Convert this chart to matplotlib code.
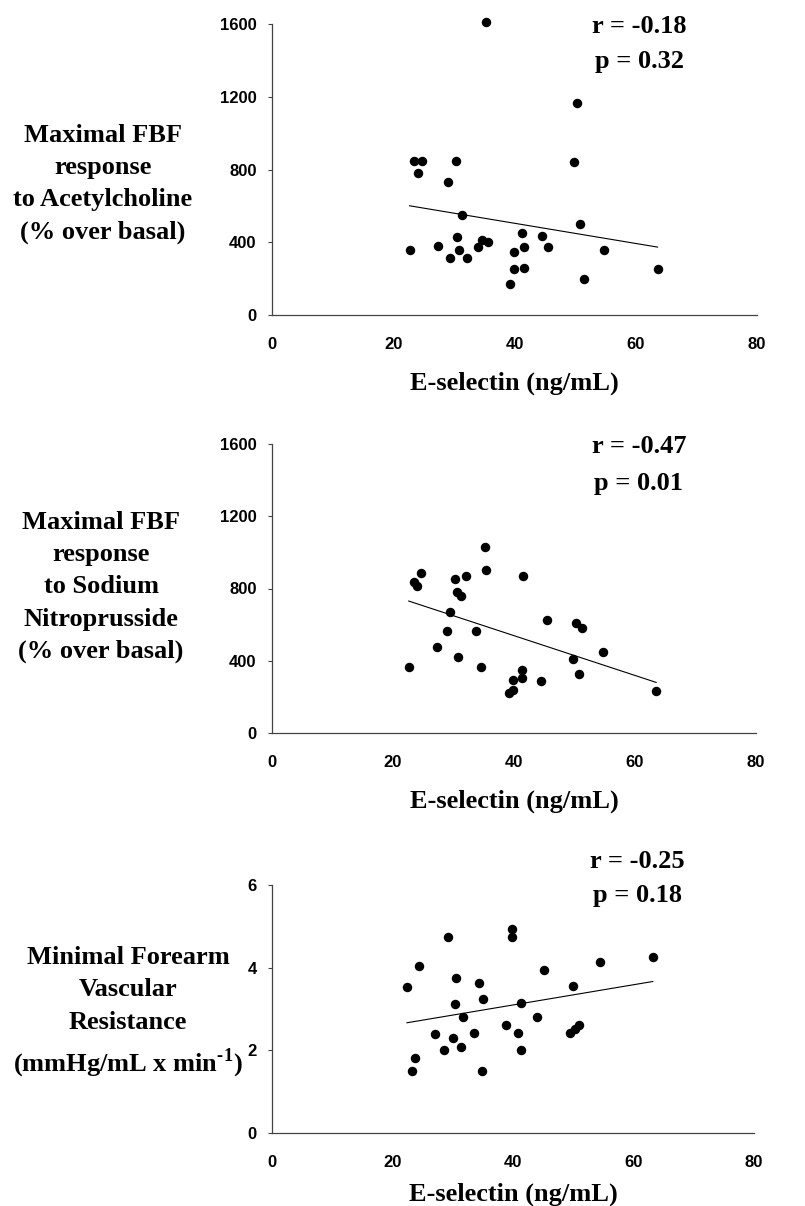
import matplotlib
matplotlib.use('Agg')
import matplotlib.pyplot as plt
import numpy as np

plt.rcParams['mathtext.fontset'] = 'custom'
plt.rcParams['mathtext.rm'] = 'Liberation Serif:bold'
plt.rcParams['mathtext.bf'] = 'Liberation Serif:bold'

# E-selectin (ng/mL) vs. forearm blood flow measures
esel_ach = [35.3, 50.3, 49.8, 23.5, 24.8, 24.1, 30.3, 29.0, 31.4, 50.8,
            22.7, 27.4, 30.5, 30.8, 29.4, 32.1, 33.9, 34.6, 35.6, 39.9,
            41.3, 41.6, 39.9, 41.6, 39.3, 44.5, 45.6, 54.8, 51.4, 63.6]
fbf_ach = [1610, 1167, 839, 845, 845, 781, 845, 733, 548, 500,
           356, 379, 427, 356, 315, 315, 372, 412, 403, 348,
           453, 372, 251, 260, 170, 436, 374, 357, 198, 255]

esel_snp = [35.2, 35.4, 24.7, 23.5, 23.9, 30.3, 32.1, 41.5, 30.5, 31.3,
            29.4, 28.9, 33.8, 27.3, 30.7, 22.6, 34.5, 45.5, 50.2, 51.3,
            54.7, 49.8, 50.7, 41.4, 41.3, 39.9, 44.4, 39.9, 39.2, 63.5]
fbf_snp = [1030, 902, 886, 838, 814, 854, 871, 871, 782, 757,
           670, 565, 567, 476, 423, 365, 365, 624, 607, 583,
           448, 408, 327, 351, 303, 295, 288, 240, 223, 234]

esel_fvr = [29.2, 39.8, 39.8, 24.4, 63.2, 54.4, 45.2, 22.4, 30.5, 34.3,
            35.1, 30.3, 41.3, 49.9, 31.7, 44.0, 38.9, 27.1, 33.6, 40.8,
            30.0, 31.3, 28.5, 41.3, 23.7, 23.3, 34.9, 49.5, 50.3, 51.0]
fvr_min = [4.73, 4.94, 4.73, 4.04, 4.25, 4.14, 3.94, 3.54, 3.74, 3.64,
           3.24, 3.13, 3.14, 3.55, 2.80, 2.81, 2.61, 2.40, 2.41, 2.41,
           2.30, 2.09, 2.00, 2.00, 1.81, 1.51, 1.51, 2.42, 2.51, 2.62]

ylabels = ['Maximal FBF\nresponse\nto Acetylcholine\n(% over basal)',
           'Maximal FBF\nresponse\nto Sodium\nNitroprusside\n(% over basal)',
           'Minimal Forearm\nVascular\nResistance\n(mmHg/mL x min$^{\\text{-1}}$)']
stats = [('r = -0.18', 'p = 0.32'), ('r = -0.47', 'p = 0.01'), ('r = -0.25', 'p = 0.18')]
yticks = [[0, 400, 800, 1200, 1600], [0, 400, 800, 1200, 1600], [0, 2, 4, 6]]
xticks = [0, 20, 40, 60, 80]

W, H = 805, 1206
# axes boxes in pixels: left, top, right, bottom
boxes = [(272, 24, 757, 315), (272, 444, 756, 733), (272, 885, 754, 1133)]
label_pos = [(103, 184), (101, 587), (128, 1013)]
stat_y = [(0.969, 0.849), (0.969, 0.841), (1.069, 0.931)]
xlabel_pad = [14, 14, 9]

fig = plt.figure(figsize=(W / 100, H / 100), dpi=100)

data = [(esel_ach, fbf_ach), (esel_snp, fbf_snp), (esel_fvr, fvr_min)]
for i, (x, y) in enumerate(data):
    l, t, r, b = boxes[i]
    ax = fig.add_axes([l / W, 1 - b / H, (r - l) / W, (b - t) / H])
    x = np.array(x)
    y = np.array(y)
    ax.plot(x, y, 'o', color='black', markersize=5.8, clip_on=False)
    # least squares line
    k, c = np.polyfit(x, y, 1)
    xx = np.array([x.min(), x.max()])
    ax.plot(xx, k * xx + c, '-', color='black', lw=0.8)

    ax.set_xlim(0, 80)
    ax.set_ylim(yticks[i][0], yticks[i][-1])
    ax.set_xticks(xticks)
    ax.set_yticks(yticks[i])
    for s in ['top', 'right']:
        ax.spines[s].set_visible(False)
    for s in ['left', 'bottom']:
        ax.spines[s].set_color('#444444')
        ax.spines[s].set_linewidth(0.9)
    ax.tick_params(axis='x', length=0, pad=16)
    ax.tick_params(axis='y', length=3, width=0.8, color='#444444', pad=8)
    for lab in ax.get_xticklabels() + ax.get_yticklabels():
        lab.set_family('Liberation Sans')
        lab.set_weight('bold')
        lab.set_fontsize(12)
    ax.set_xlabel('E-selectin (ng/mL)', family='Liberation Serif', weight='bold',
                  fontsize=19, labelpad=xlabel_pad[i])

    ax.text(0.758, stat_y[i][0], stats[i][0], transform=ax.transAxes, ha='center',
            va='baseline', family='Liberation Serif', weight='bold', fontsize=19)
    ax.text(0.758, stat_y[i][1], stats[i][1], transform=ax.transAxes, ha='center',
            va='baseline', family='Liberation Serif', weight='bold', fontsize=19)

    fig.text(label_pos[i][0] / W, 1 - label_pos[i][1] / H, ylabels[i], ha='center',
             va='center', multialignment='center', family='Liberation Serif',
             weight='bold', fontsize=19, linespacing=1.52)

fig.savefig('out.png', dpi=100)
